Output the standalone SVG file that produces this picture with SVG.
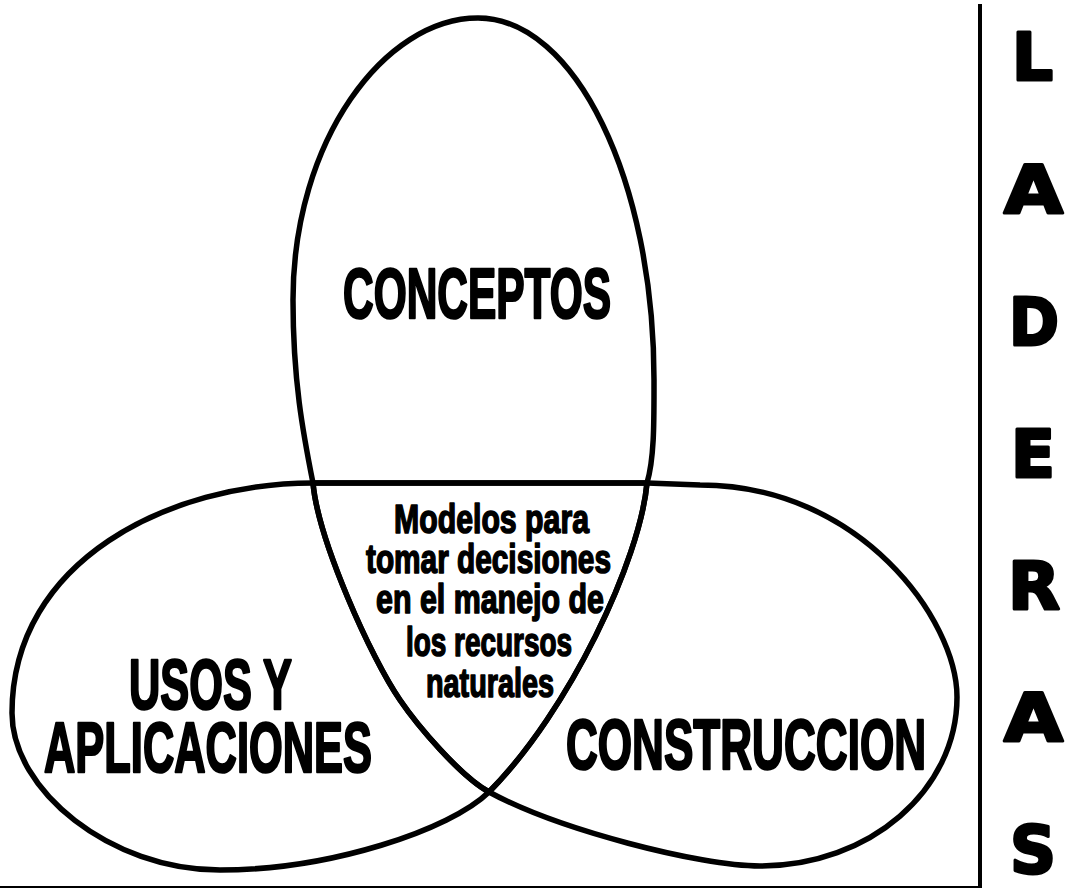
<svg xmlns="http://www.w3.org/2000/svg" width="1066" height="890" viewBox="0 0 1066 890">
<style>
.lobe{fill:none;stroke:#000;stroke-width:5.5;stroke-linejoin:round}
.big{font-family:"Liberation Sans",Arial,sans-serif;font-weight:bold;font-size:70px;fill:#000;stroke:#000;stroke-width:2.5;stroke-linejoin:round}
.mid{font-family:"Liberation Sans",Arial,sans-serif;font-weight:bold;font-size:40px;fill:#000;stroke:#000;stroke-width:1.6;stroke-linejoin:round}
.side{font-family:"DejaVu Sans","Liberation Sans",sans-serif;font-weight:bold;font-size:66px;fill:#000;stroke:#000;stroke-width:3;stroke-linejoin:round}
.frame{stroke:#000;fill:none}
</style>
<rect width="1066" height="890" fill="#fff"/>
<g id="connectors">
  <line class="frame" x1="980" y1="4" x2="980" y2="888" stroke-width="4"/>
  <line class="frame" x1="0" y1="887" x2="980" y2="887" stroke-width="2"/>
</g>
<g id="conceptos">
  <path class="lobe" d="M478,18 C575,18 654,180 654,380 C654,420 654.5,458 647,483 C640,560 570,710 489,792 C460,776 417,725 400,700 C371.5,659 318,540 313,483 C303,433 293,380 293,300 C293,140 385,18 478,18 Z"/>
  <text class="big" x="343" y="318" textLength="268" lengthAdjust="spacingAndGlyphs">CONCEPTOS</text>
</g>
<g id="usos-aplicaciones">
  <path class="lobe" d="M489,792 C450,830 330,870 220,870 C110,870 12,790 12,713 C12,560 170,483 313,483 L647,483 C640,560 570,710 489,792 Z"/>
  <text class="big" x="129" y="709" textLength="163" lengthAdjust="spacingAndGlyphs">USOS Y</text>
  <text class="big" x="44" y="772" textLength="328" lengthAdjust="spacingAndGlyphs">APLICACIONES</text>
</g>
<g id="construccion">
  <path class="lobe" d="M313,483 L647,483 L700,485 C860,485 957,620 957,697 C957,790 870,866 760,866 C700,866 559,830 489,792 C460,776 417,725 400,700 C371.5,659 318,540 313,483 Z"/>
  <text class="big" x="566" y="769" textLength="360" lengthAdjust="spacingAndGlyphs">CONSTRUCCION</text>
</g>
<g id="modelos">
  <text class="mid" x="394" y="533" textLength="195" lengthAdjust="spacingAndGlyphs">Modelos para</text>
  <text class="mid" x="366" y="573" textLength="245" lengthAdjust="spacingAndGlyphs">tomar decisiones</text>
  <text class="mid" x="376" y="613" textLength="228" lengthAdjust="spacingAndGlyphs">en el manejo de</text>
  <text class="mid" x="406" y="656" textLength="166" lengthAdjust="spacingAndGlyphs">los recursos</text>
  <text class="mid" x="426" y="697" textLength="128" lengthAdjust="spacingAndGlyphs">naturales</text>
</g>
<g id="laderas">
  <text class="side" x="1012" y="80" textLength="41" lengthAdjust="spacingAndGlyphs">L</text>
  <text class="side" x="1004" y="213" textLength="59" lengthAdjust="spacingAndGlyphs">A</text>
  <text class="side" x="1009" y="345" textLength="50" lengthAdjust="spacingAndGlyphs">D</text>
  <text class="side" x="1011" y="477" textLength="44" lengthAdjust="spacingAndGlyphs">E</text>
  <text class="side" x="1008" y="609" textLength="52" lengthAdjust="spacingAndGlyphs">R</text>
  <text class="side" x="1004" y="741" textLength="59" lengthAdjust="spacingAndGlyphs">A</text>
  <text class="side" x="1010" y="873" textLength="46" lengthAdjust="spacingAndGlyphs">S</text>
</g>
</svg>
